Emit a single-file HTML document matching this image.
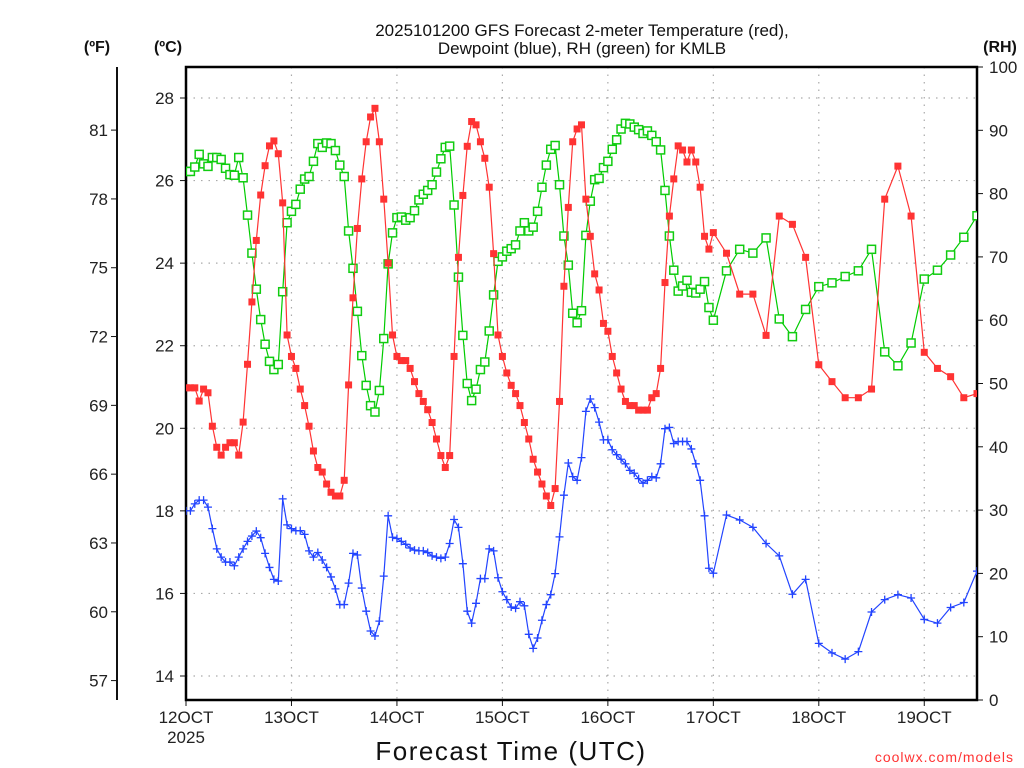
<!DOCTYPE html>
<html><head><meta charset="utf-8"><title>GFS Forecast KMLB</title>
<style>
html,body{margin:0;padding:0;background:#fff;}
svg{display:block;font-family:"Liberation Sans","DejaVu Sans",sans-serif;}
</style></head>
<body>
<svg id="chart" width="1024" height="768" viewBox="0 0 1024 768" xmlns="http://www.w3.org/2000/svg">
<defs><clipPath id="plotclip"><rect x="186" y="67" width="791" height="633"/></clipPath></defs>
<text x="582" y="36" font-size="17" text-anchor="middle" fill="#111">2025101200 GFS Forecast 2-meter Temperature (red),</text>
<text x="582" y="54" font-size="17" text-anchor="middle" fill="#111">Dewpoint (blue), RH (green) for KMLB</text>
<text x="97" y="52" font-size="16" font-weight="bold" text-anchor="middle" fill="#111">(ºF)</text>
<text x="168" y="52" font-size="16" font-weight="bold" text-anchor="middle" fill="#111">(ºC)</text>
<text x="1000" y="52" font-size="16" font-weight="bold" text-anchor="middle" fill="#111">(RH)</text>
<g id="grid"></g>
<g id="axes"></g>
<g id="series" clip-path="url(#plotclip)"></g>
<text x="511" y="760" font-size="26" text-anchor="middle" fill="#111" letter-spacing="1.5">Forecast Time (UTC)</text>
<text x="1014" y="762" font-size="14" text-anchor="end" fill="#ff3333" letter-spacing="1">coolwx.com/models</text>
</svg>
<script>
var tempC = [20.98,20.98,20.98,20.66,20.95,20.86,20.05,19.54,19.35,19.54,19.65,19.65,19.35,20.15,21.55,23.06,24.55,25.65,26.36,26.84,26.96,26.65,25.46,22.26,21.74,21.45,20.95,20.55,20.05,19.45,19.05,18.94,18.65,18.45,18.36,18.36,18.74,21.05,23.16,24.84,26.04,26.94,27.54,27.75,26.94,25.55,24.0,22.26,21.74,
21.64,21.64,21.45,21.13,20.84,20.65,20.45,20.14,19.74,19.34,19.05,19.34,21.74,24.14,25.64,26.83,27.43,27.35,26.94,26.54,25.84,24.23,22.26,21.74,21.34,21.04,20.84,20.55,20.14,19.74,19.25,18.94,18.65,18.36,18.13,18.54,20.65,23.44,25.35,26.94,27.25,27.35,25.55,24.65,23.74,23.35,22.54,22.35,21.74,
21.34,20.95,20.65,20.55,20.55,20.44,20.44,20.44,20.74,20.84,21.45,23.53,25.14,26.04,26.84,26.74,26.45,26.74,26.45,25.84,24.65,24.34,24.74,
24.24,23.25,23.25,22.25,25.14,24.94,24.14,21.54,21.13,20.74,20.74,20.95,25.55,26.35,25.14,21.84,21.45,21.25,20.74,20.84];
var dewC = [18.0,18.0,18.17,18.26,18.26,18.09,17.57,17.08,16.88,16.76,16.76,16.67,16.88,17.08,17.26,17.39,17.51,17.35,16.97,16.63,16.34,16.30,18.29,17.66,17.57,17.52,17.52,17.43,17.03,16.88,16.99,16.81,16.63,16.40,16.11,15.73,15.73,16.25,16.97,16.93,16.13,15.57,15.09,14.97,15.33,16.42,17.88,17.36,17.33,
17.26,17.19,17.10,17.05,17.03,17.03,16.99,16.91,16.88,16.85,16.88,17.21,17.79,17.60,16.72,15.57,15.28,15.76,16.36,16.36,17.08,17.03,16.38,16.04,15.85,15.67,15.64,15.80,15.70,15.01,14.67,14.92,15.35,15.73,15.97,16.48,17.37,18.38,19.16,18.83,18.74,19.29,20.41,20.71,20.50,20.15,19.72,19.72,19.48,
19.36,19.25,19.14,18.98,18.91,18.78,18.67,18.74,18.83,18.80,19.14,19.99,20.02,19.63,19.68,19.68,19.68,19.50,19.14,18.74,17.88,16.61,16.49,
17.90,17.78,17.60,17.21,16.91,15.98,16.34,14.79,14.56,14.41,14.59,15.55,15.85,15.97,15.89,15.37,15.28,15.66,15.78,16.54];
var rhPct = [83.5,83.5,84.2,86.2,84.7,84.3,85.7,85.7,85.4,84.0,83.0,82.9,85.7,82.5,76.6,70.6,64.9,60.1,56.2,53.5,52.2,53.0,64.5,75.4,77.2,78.3,80.7,82.3,82.7,85.1,87.9,87.3,88.0,87.9,86.8,84.5,82.7,74.1,68.2,61.4,54.4,49.7,46.5,45.5,48.9,57.1,68.9,73.8,76.2,
76.3,75.8,76.2,77.3,79.0,79.9,80.5,81.4,83.4,85.5,87.3,87.5,78.2,66.8,57.6,50.0,47.3,49.1,52.2,53.4,58.3,64.0,69.3,70.0,70.9,71.3,71.9,74.1,75.4,74.1,74.7,77.2,81.0,84.5,87.0,87.6,81.4,73.3,68.7,61.1,59.6,61.5,73.4,78.8,82.2,82.4,84.1,85.1,87.0,
88.5,90.2,91.1,91.0,90.5,90.1,89.5,89.9,89.2,88.2,86.9,80.5,73.3,67.9,64.6,65.4,66.3,64.4,64.3,64.9,66.1,62.0,60.0,
67.8,71.2,70.6,73.0,60.2,57.4,61.7,65.3,65.9,66.9,67.8,71.2,55.0,52.8,56.4,66.5,67.9,70.3,73.1,76.5];
var celsiusTicks = [28,26,24,22,20,18,16,14];
var fahrenheitTicks = [81,78,75,72,69,66,63,60,57];
var rhTicks = [100,90,80,70,60,50,40,30,20,10,0];
var dayLabels = ["12OCT","13OCT","14OCT","15OCT","16OCT","17OCT","18OCT","19OCT"];

var forecastHours = [];
for (var h = 0; h <= 120; h++) forecastHours.push(h);
for (var h2 = 123; h2 <= 180; h2 += 3) forecastHours.push(h2);

var NS = "http://www.w3.org/2000/svg";
var L = 186, R = 977, T = 67, B = 700;
function xScale(h){ return L + h * (R - L) / 180; }
function yC(c){ return 98 + (28 - c) * (578 / 14); }
function yRH(r){ return B - r * (B - T) / 100; }
function yF(f){ return yC((f - 32) * 5 / 9); }
function mk(tag, attrs, parent){
  var e = document.createElementNS(NS, tag);
  for (var k in attrs) e.setAttribute(k, attrs[k]);
  parent.appendChild(e); return e;
}
var grid = document.getElementById('grid');
var axes = document.getElementById('axes');
var series = document.getElementById('series');

celsiusTicks.forEach(function(c){
  var y = yC(c);
  var g = mk('line', {x1:L, x2:R, y1:y, y2:y, stroke:'#aaa', 'stroke-width':1.2, 'stroke-dasharray':'1.5,6'}, grid);
  
  
  var t = mk('line', {x1:L-6, x2:L, y1:y, y2:y, stroke:'#111', 'stroke-width':1}, axes);
  
  
  var lb = mk('text', {x:L-12, y:y+6, 'font-size':17, 'text-anchor':'end', fill:'#222'}, axes);
  lb.textContent = c;
  
  
});
fahrenheitTicks.forEach(function(f){
  var y = yF(f);
  var t = mk('line', {x1:111, x2:117, y1:y, y2:y, stroke:'#111', 'stroke-width':1}, axes);
  
  
  var lb = mk('text', {x:108, y:y+6, 'font-size':17, 'text-anchor':'end', fill:'#222'}, axes);
  lb.textContent = f;
  
  
});
rhTicks.forEach(function(r){
  var y = yRH(r);
  var t = mk('line', {x1:R, x2:R+6, y1:y, y2:y, stroke:'#111', 'stroke-width':1}, axes);
  
  
  var lb = mk('text', {x:R+12, y:y+6, 'font-size':17, 'text-anchor':'start', fill:'#222'}, axes);
  lb.textContent = r;
  
  
});
dayLabels.forEach(function(d, i){
  var x = xScale(i * 24);
  if (i > 0) {
    var g = mk('line', {x1:x, x2:x, y1:T, y2:B, stroke:'#aaa', 'stroke-width':1.2, 'stroke-dasharray':'1.5,6'}, grid);
    
    
  }
  var t = mk('line', {x1:x, x2:x, y1:B, y2:B+6, stroke:'#111', 'stroke-width':1}, axes);
  
  
  var lb = mk('text', {x:x, y:723, 'font-size':17, 'text-anchor':'middle', fill:'#222'}, axes);
  lb.textContent = d;
  
  
});
var yr = mk('text', {x:xScale(0), y:743, 'font-size':17, 'text-anchor':'middle', fill:'#222'}, axes);
yr.textContent = '2025';



var fAxis = mk('line', {x1:117, x2:117, y1:T, y2:B, stroke:'#111', 'stroke-width':2}, axes);


var frame = mk('rect', {x:L, y:T, width:R-L, height:B-T, fill:'none', stroke:'#000', 'stroke-width':2.5}, axes);



function pathFor(vals, yf){
  return vals.map(function(v, i){ return (i ? 'L' : 'M') + xScale(forecastHours[i]).toFixed(1) + ',' + yf(v).toFixed(1); }).join(' ');
}
// RH
var gl = mk('path', {d:pathFor(rhPct, yRH), fill:'none', stroke:'#00cc00', 'stroke-width':1.2}, series);


rhPct.forEach(function(v, i){
  var x = xScale(forecastHours[i]), y = yRH(v);
  var m = mk('rect', {x:x-4, y:y-4, width:8, height:8, fill:'#fff', stroke:'#11cc11', 'stroke-width':1.5}, series);
  
  
});
// Temperature
var rl = mk('path', {d:pathFor(tempC, yC), fill:'none', stroke:'#ff3333', 'stroke-width':1.2}, series);


tempC.forEach(function(v, i){
  var x = xScale(forecastHours[i]), y = yC(v);
  var m = mk('rect', {x:x-3.5, y:y-3.5, width:7, height:7, fill:'#ff3333'}, series);
  
  
});
// Dewpoint
var bl = mk('path', {d:pathFor(dewC, yC), fill:'none', stroke:'#2244ff', 'stroke-width':1.2}, series);


dewC.forEach(function(v, i){
  var x = xScale(forecastHours[i]), y = yC(v);
  var m = mk('path', {d:'M'+(x-4)+','+y+' H'+(x+4)+' M'+x+','+(y-4)+' V'+(y+4), stroke:'#2244ff', 'stroke-width':1.3, fill:'none'}, series);
  
  
});
</script>
</body></html>
